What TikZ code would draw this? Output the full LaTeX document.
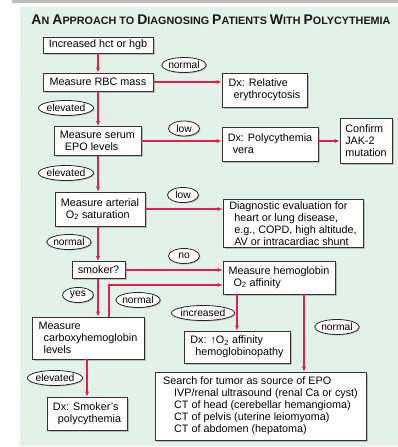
\documentclass[tikz,border=0pt]{standalone}
\usepackage{fontspec}
\setmainfont{Liberation Sans}
\usetikzlibrary{arrows.meta,shapes.geometric,shadows}

\definecolor{flowred}{RGB}{226,30,82}
\definecolor{panelgreen}{RGB}{226,242,232}
\definecolor{bargray}{RGB}{188,188,188}
\newcommand{\indt}{\hspace*{5pt}}
\newcommand{\bigsc}[1]{{\fontsize{14}{14}\selectfont #1}}

\begin{document}
\begin{tikzpicture}[x=1pt, y=-1pt, >={Latex[length=5pt,width=4.2pt]},
  box/.style={draw=black!80, line width=0.6pt, fill=white, align=left, inner sep=2pt,
    font=\fontsize{10.8}{12}\selectfont,
    drop shadow={shadow xshift=1.6pt, shadow yshift=-1.6pt, opacity=0.45}},
  oval/.style={ellipse, draw=black!85, line width=0.8pt, fill=white, inner sep=0pt,
    minimum height=15pt, minimum width=31pt, font=\fontsize{10.3}{11}\selectfont,
    drop shadow={shadow xshift=1pt, shadow yshift=-1pt, opacity=0.45}},
  flow/.style={->, draw=flowred, line width=1.4pt}]

  % Panel
  \useasboundingbox (0,0) rectangle (398,447);
  \fill[bargray] (12,0) rectangle (398,3);
  \fill[panelgreen] (20,7) rectangle (398,446);

  % Title
  \node[font=\bfseries\fontsize{10.8}{12}\selectfont, text=black!90] (title) at (211,20)
    {\bigsc{A}N \bigsc{A}PPROACH TO \bigsc{D}IAGNOSING \bigsc{P}ATIENTS \bigsc{W}ITH \bigsc{P}OLYCYTHEMIA};

  % Boxes
  \node[box, minimum width=110pt, minimum height=16pt] (inc) at (98,45) {Increased hct or hgb};
  \node[box, minimum width=110pt, minimum height=18pt] (rbc) at (98,82) {Measure RBC mass};
  \node[box, minimum width=85pt, minimum height=34pt] (rel) at (264.5,90) {Dx: Relative\\\indt erythrocytosis};
  \node[box, minimum width=87pt, minimum height=29pt] (epo) at (97.5,141) {Measure serum\\\indt EPO levels};
  \node[box, minimum width=96pt, minimum height=34pt] (pv) at (270,144) {Dx: Polycythemia\\\indt vera};
  \node[box, minimum width=52pt, minimum height=45pt] (jak) at (366,140.5) {Confirm\\JAK-2\\mutation};
  \node[box, minimum width=90pt, minimum height=34pt] (art) at (100,209) {Measure arterial\\\indt O\textsubscript{2} saturation};
  \node[box, minimum width=140pt, minimum height=47pt] (diag) at (293,223.5)
    {Diagnostic evaluation for\\\indt heart or lung disease,\\\indt e.g., COPD, high altitude,\\\indt AV or intracardiac shunt};
  \node[box, minimum width=53pt, minimum height=17pt] (smk) at (98.5,270) {smoker?};
  \node[box, minimum width=112pt, minimum height=33pt] (hba) at (279,277.5) {Measure hemoglobin\\\indt O\textsubscript{2} affinity};
  \node[box, minimum width=112pt, minimum height=42pt] (cohb) at (88,338) {Measure\\\indt carboxyhemoglobin\\\indt levels};
  \node[box, minimum width=106pt, minimum height=32pt] (hbp) at (237,347) {Dx: ↑O\textsubscript{2} affinity\\\indt hemoglobinopathy};
  \node[box, minimum width=80pt, minimum height=33pt] (spc) at (87,413.5) {Dx: Smoker's\\\indt polycythemia};
  \node[box, minimum width=211pt, minimum height=68pt] (tum) at (260.5,406)
    {Search for tumor as source of EPO\\
     \hspace*{11pt}IVP/renal ultrasound (renal Ca or cyst)\\
     \hspace*{11pt}CT of head (cerebellar hemangioma)\\
     \hspace*{11pt}CT of pelvis (uterine leiomyoma)\\
     \hspace*{11pt}CT of abdomen (hepatoma)};

  % Decision labels
  \node[oval] (normA) at (184,65) {normal};
  \node[oval] (elevA) at (66,108) {elevated};
  \node[oval] (lowA) at (184,128.5) {low};
  \node[oval] (elevB) at (66,173) {elevated};
  \node[oval] (lowB) at (183,195) {low};
  \node[oval] (normB) at (69,242) {normal};
  \node[oval] (no) at (184,256) {no};
  \node[oval] (yes) at (78,295) {yes};
  \node[oval] (normC) at (138,300) {normal};
  \node[oval] (incr) at (203,313) {increased};
  \node[oval] (normD) at (337,327) {normal};
  \node[oval] (elevC) at (55,378) {elevated};

  % Connectors
  \draw[flow] (inc.south) -- (rbc.north);
  \draw[flow] (rbc.east) -- (rbc.east -| rel.west);
  \draw[flow] (rbc.south) -- (rbc.south |- epo.north);
  \draw[flow] (epo.east) -- (epo.east -| pv.west);
  \draw[flow] (pv.east |- epo.east) -- (epo.east -| jak.west);
  \draw[flow] (epo.south -| rbc.south) -- (rbc.south |- art.north);
  \draw[flow] (art.east) -- (art.east -| diag.west);
  \draw[flow] (art.south -| rbc.south) -- (rbc.south |- smk.north);
  \draw[flow] (smk.east) -- (smk.east -| hba.west);
  \draw[flow] (smk.south -| rbc.south) -- (rbc.south |- cohb.north);
  \draw[flow] ([xshift=21pt]cohb.north) |- ([yshift=-7.5pt]hba.west);
  \draw[flow] (hba.south -| hbp.north) -- (hbp.north);
  \draw[flow] ([xshift=25pt]hba.south) -- ([xshift=25pt]hba.south |- tum.north);
  \draw[flow] (cohb.south -| spc.north) -- (spc.north);
\end{tikzpicture}
\end{document}
